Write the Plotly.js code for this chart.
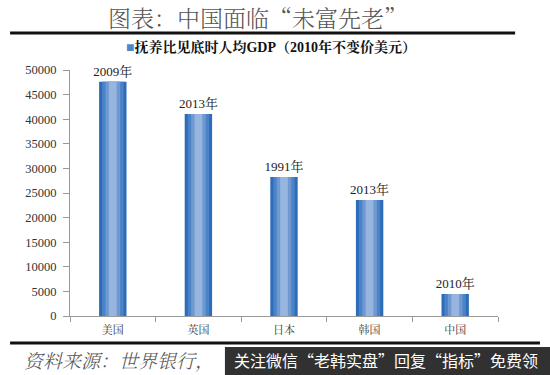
<!DOCTYPE html>
<html><head><meta charset="utf-8">
<script src="https://cdn.plot.ly/plotly-3.0.1.min.js"></script>
<style>html,body{margin:0;padding:0;background:#fff}#chart{width:550px;height:375px}</style>
</head><body><div id="chart"></div>
<script>
const countries = ['美国','英国','日本','韩国','中国'];
const gdpValues = [47600, 41050, 28250, 23600, 4470];
const yearLabels = ['2009年','2013年','1991年','2013年','2010年'];
const yTicks = [0,5000,10000,15000,20000,25000,30000,35000,40000,45000,50000];

const serif = '"Liberation Serif","Noto Serif CJK SC","Noto Sans CJK SC",serif';
const layers = [
  {w:0.32, c:'#2d6cb8'},
  {w:0.25, c:'#4a83c7'},
  {w:0.17, c:'#7099d2'},
  {w:0.09, c:'#96b5df'}
];
const traces = layers.map((l,i)=>({
  type:'bar', x:countries, y:gdpValues, width:l.w,
  marker:{color:l.c, line:{width:0}},
  text: i===0 ? yearLabels : undefined,
  textposition: i===0 ? 'outside' : 'none',
  constraintext:'none',
  cliponaxis:false,
  textfont:{family:serif, size:13, color:'#222'},
  outsidetextfont:{family:serif, size:13, color:'#222'},
  hoverinfo:'skip', showlegend:false
}));

const layout = {
  width:550, height:375,
  margin:{l:70, r:52, t:70, b:59},
  paper_bgcolor:'#fff', plot_bgcolor:'#fff',
  barmode:'overlay',
  xaxis:{showline:true, linecolor:'#999', linewidth:1, ticks:'outside', tickson:'boundaries',
         ticklen:5, tickcolor:'#999', ticklabelstandoff:4,
         tickfont:{family:serif, size:11, color:'#333'}, showgrid:false},
  yaxis:{range:[0,50000], tickvals:yTicks, tickformat:'d', showline:true, linecolor:'#999', linewidth:1,
         ticks:'outside', ticklen:6, tickcolor:'#999', ticklabelstandoff:4, showgrid:false, zeroline:false,
         tickfont:{family:serif, size:12.5, color:'#333'}},
  shapes:[
    {type:'line', xref:'paper', yref:'paper', x0:-0.14, x1:1.04, y0:1.150, y1:1.150, line:{color:'#111', width:3}},
    {type:'line', xref:'paper', yref:'paper', x0:-0.14, x1:1.098, y0:-0.11, y1:-0.11, line:{color:'#111', width:3}},
    {type:'rect', xref:'paper', yref:'paper', x0:0.362, x1:1.13, y0:-0.126, y1:-0.245, fillcolor:'#313131', line:{width:0}}
  ],
  annotations:[
    {text:'图表：中国面临“未富先老”', xref:'paper', yref:'paper', x:0.437, y:1.213, xanchor:'center', yanchor:'middle',
     showarrow:false, font:{family:'"Noto Serif CJK SC","Noto Sans CJK SC",serif', size:23, weight:300, color:'#555'}},
    {text:'<span style="color:#4f87c9">■</span><b>抚养比见底时人均GDP（2010年不变价美元）</b>', xref:'paper', yref:'paper',
     x:0.47, y:1.093, xanchor:'center', yanchor:'middle', showarrow:false,
     font:{family:serif, size:14, color:'#111'}},
    {text:'<i>资料来源：世界银行，</i>', xref:'paper', yref:'paper', x:-0.112, y:-0.178, xanchor:'left', yanchor:'middle',
     showarrow:false, font:{family:'"Noto Serif CJK SC","Noto Sans CJK SC",serif', size:19, weight:300, color:'#555'}},
    {text:'关注微信“老韩实盘”回复“指标”免费领', xref:'paper', yref:'paper', x:0.378, y:-0.18, xanchor:'left', yanchor:'middle',
     showarrow:false, font:{family:'"Noto Sans CJK SC",sans-serif', size:16, color:'#fff'}}
  ]
};
Plotly.newPlot('chart', traces, layout, {displayModeBar:false, staticPlot:true});
</script></body></html>
